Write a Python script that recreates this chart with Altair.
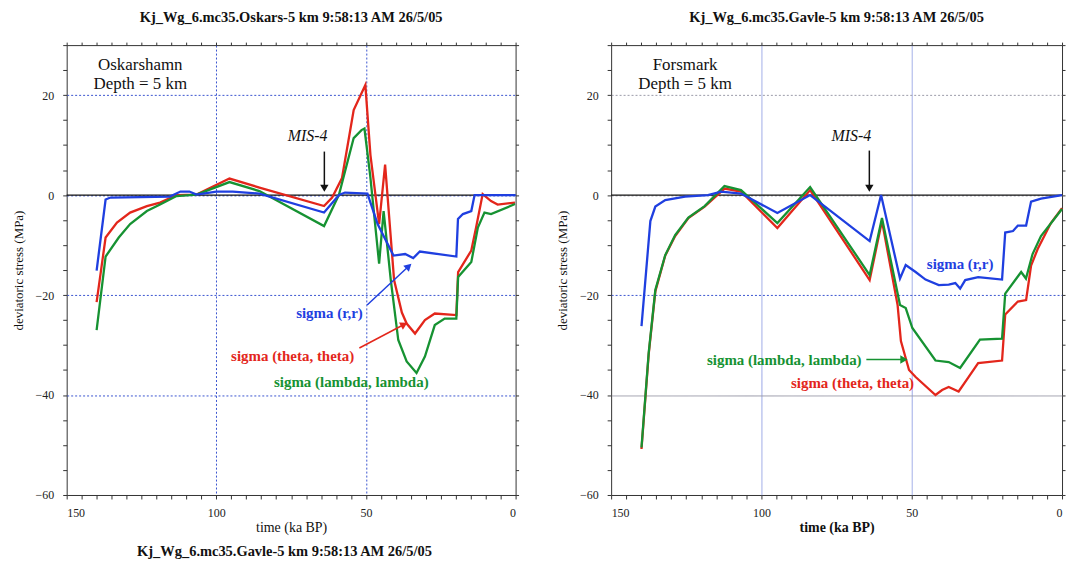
import math
import altair as alt
import pandas as pd

FONT = "Liberation Serif"
BLUE = "#1f3fe0"
RED = "#e3261b"
GREEN = "#169232"
GRID = "#3a55d0"

TITLE_L = "Kj_Wg_6.mc35.Oskars-5 km 9:58:13 AM 26/5/05"
TITLE_R = "Kj_Wg_6.mc35.Gavle-5 km 9:58:13 AM 26/5/05"
TITLE_B = "Kj_Wg_6.mc35.Gavle-5 km 9:58:13 AM 26/5/05"
X_TITLE = "time (ka BP)"
Y_TITLE = "deviatoric stress (MPa)"
SERIES = ["sigma (theta, theta)", "sigma (lambda, lambda)", "sigma (r,r)"]
COLORS = [RED, GREEN, BLUE]

# ---------------- Oskarshamn (left) ----------------
L_R_T = [140, 137, 135.4, 115.5, 112, 109, 106.6, 100, 94.5, 85.6, 64, 59, 57, 49.5, 46.1,
         40.8, 36.9, 34.2, 32.0, 19.8, 19.25, 17.6, 14.8, 13.7, 0]
L_R_V = [-15.1, -0.9, -0.5, -0.3, 0.7, 0.7, 0.1, 0.7, 0.7, 0.3, -3.5, 0, 0.5, 0.3, -5.8,
         -12.1, -11.8, -12.6, -11.3, -12.3, -4.8, -3.8, -3.2, 0, 0]

L_T_T = [140, 137, 133.2, 128.8, 123.2, 118.8, 113.3, 106.6, 95.6, 85.6, 64, 61.3, 58, 54.1,
         50.2, 48.5, 45.6, 43.6, 40.6, 38.0, 36.4, 33.6, 30.3, 27.0, 19.8, 19.2, 14.8, 13.2,
         11.0, 8.2, 6.0, 0.2]
L_T_V = [-21.4, -8.5, -5.5, -3.5, -2.2, -1.5, 0, 0.1, 3.3, 1.5, -2.2, -0.5, 3.4, 17,
         22, 8, -5.8, 6.1, -17, -23.5, -25.7, -27.7, -25, -23.7, -24, -15.4, -11.1, -6.5,
         0.2, -1.2, -1.9, -1.5]

L_L_T = [140, 137, 132.6, 128.8, 123.2, 118.8, 113.3, 106.6, 95.6, 85.6, 64, 59, 54.1, 51.5,
         50.5, 48.6, 45.6, 44.1, 41.7, 39.2, 36.4, 33.1, 30.3, 27.0, 23.7, 19.8, 19.2, 14.8,
         12.6, 10.4, 8.2, 0.2]
L_L_V = [-27, -12.3, -8.5, -5.8, -3.2, -1.9, -0.2, 0.1, 2.6, 0.8, -6.2, 0.1, 11.4, 13,
         13.3, 4, -13.7, -3.2, -17, -29, -33.3, -35.6, -32.3, -26, -24.7, -24.7, -16.4, -13.4,
         -6.5, -3.5, -3.8, -1.8]

# ---------------- Forsmark (right) ----------------
R_R_T = [139.9, 136.95, 135.3, 132.0, 125.4, 117.8, 113.4, 106.8, 94.7, 83.8, 64.0, 60.2,
         53.9, 52.0, 48.7, 45.4, 41.0, 37.7, 35.5, 33.9, 32.2, 27.9, 19.95, 18.9, 16.3, 14.7,
         11.95, 10.3, 7.0, 0]
R_R_V = [-26.2, -5.2, -2.3, -1, -0.3, 0, 0.7, 0.3, -3.6, 0, -9.2, 0,
         -16.7, -14, -15.4, -16.9, -18, -17.9, -17.6, -18.7, -17, -16.4, -16.9, -7.5, -7.2, -6.1,
         -6.1, -1.3, -0.7, 0]

R_T_T = [139.9, 137.5, 135.3, 132.0, 128.7, 124.3, 118.9, 112.3, 106.8, 94.7, 83.8, 64.0,
         59.9, 54.7, 53.6, 50.9, 48.7, 42.1, 39.9, 37.7, 34.4, 31.1, 27.9, 19.95, 18.9, 14.7,
         11.95, 10.3, 8.1, 3.7, 0]
R_T_V = [-50.8, -31.8, -19.3, -12.1, -8.2, -4.6, -2.3, 1.3, 0.7, -6.6, 1, -17,
         -5.2, -22, -29.2, -35, -36.4, -40, -39, -38.4, -39.3, -36.4, -33.6, -33.1, -23.9, -21.3,
         -21, -14.1, -10.8, -5.6, -2.6]

R_L_T = [139.9, 137.5, 135.3, 132.0, 128.7, 124.3, 118.9, 112.3, 106.8, 94.7, 83.8, 64.0,
         59.9, 53.9, 52.0, 49.8, 42.1, 37.7, 33.9, 27.3, 19.95, 18.9, 13.6, 12.0, 9.8, 7.0, 0]
R_L_V = [-50.5, -31.5, -19, -12, -8, -4.5, -2.2, 1.8, 1, -5.6, 1.6, -16,
         -4.6, -22, -22.6, -26.6, -33.1, -33.4, -34.6, -28.9, -28.7, -19.7, -15.4, -16.7, -11.8,
         -8.2, -2.8]

# ---------------- annotations ----------------
L_SITE = ["Oskarshamn", "Depth = 5 km"]
R_SITE = ["Forsmark", "Depth = 5 km"]
SITE_T = [125.4, 125.4]
SITE_V = [26.0, 22.2]

MIS_TEXT = "MIS-4"
L_MIS = (69.5, 11.9)
R_MIS = (70.1, 11.8)
L_MIS_ARROW = (63.9, 8.7, 63.9, 1.6)
R_MIS_ARROW = (64.1, 8.9, 64.1, 1.6)

L_LABEL_T = [62.2, 74.5, 54.9]      # r, theta, lambda
L_LABEL_V = [-23.6, -32.1, -37.5]
R_LABEL_T = [33.9, 69.7, 92.4]
R_LABEL_V = [-13.8, -37.7, -32.9]

# arrows (t1, v1, t2, v2, colour)
L_ARROWS = [(49.6, -22.0, 36.0, -14.4, BLUE), (52.2, -30.6, 37.6, -26.0, RED)]
R_ARROWS = [(65.1, -32.9, 53.0, -32.9, GREEN)]

X_TICKS = list(range(0, 151, 5))
Y_TICKS = list(range(-60, 31, 5))

W_L, W_R, H = 451, 453, 452


def long_df(pairs):
    rows = []
    for name, ts, vs in pairs:
        for i, (t, v) in enumerate(zip(ts, vs)):
            rows.append({"t": t, "v": v, "s": name, "o": i})
    return pd.DataFrame(rows)


def panel(lines_df, site, labels_t, labels_v, mis, mis_arrow, arrows, title, width, sx, sy, right_style):
    xs = alt.Scale(domain=[150, 0], nice=False, zero=False)
    ys = alt.Scale(domain=[-60, 30], nice=False, zero=False)

    if right_style:
        xgrid = dict(gridColor="#7f90e0", gridDash=[1, 0], gridWidth=0.8)
        ygrid = dict(gridColor={"condition": {"test": "datum.value !== -20", "value": "#9a9aa8"}, "value": GRID},
                     gridDash={"condition": {"test": "datum.value === -40", "value": [1, 0]}, "value": [2, 2]},
                     gridWidth=1)
    else:
        xgrid = dict(gridColor=GRID, gridDash=[2, 2], gridWidth=1)
        ygrid = dict(gridColor=GRID, gridDash=[2, 2], gridWidth=1)

    x_main = alt.Axis(values=X_TICKS, labelExpr="datum.value % 50 === 0 ? datum.label : ''",
                      grid=True,
                      gridOpacity={"condition": {"test": "datum.value % 50 === 0 && datum.value > 0 && datum.value < 150", "value": 1}, "value": 0},
                      tickSize=4, tickColor="#333", domain=False, title=X_TITLE,
                      labelFont=FONT, labelFontSize=12, labelPadding=9, labelColor="#222",
                      titleFont=FONT, titleFontSize=14, titleFontWeight="bold" if right_style else "normal",
                      titlePadding=2, titleColor="#111", **xgrid)
    y_main = alt.Axis(values=Y_TICKS, labelExpr="datum.value % 20 === 0 ? datum.label : ''",
                      grid=True,
                      gridOpacity={"condition": {"test": "datum.value % 20 === 0 && datum.value > -60", "value": 1}, "value": 0},
                      tickSize=4, tickColor="#333", domain=False, title=Y_TITLE,
                      labelFont=FONT, labelFontSize=12, labelPadding=9, labelColor="#222",
                      titleFont=FONT, titleFontSize=13, titleFontWeight="normal",
                      titlePadding=10, titleColor="#111", **ygrid)
    x_top = alt.Axis(orient="top", values=X_TICKS, labels=False, grid=False, tickSize=3,
                     tickColor="#333", domain=False, title=None)
    y_right = alt.Axis(orient="right", values=Y_TICKS, labels=False, grid=False, tickSize=3,
                       tickColor="#333", domain=False, title=None)

    zero = alt.Chart(pd.DataFrame({"t": [150, 0], "v": [0, 0]})).mark_line(
        color="#111", strokeWidth=1.3).encode(
        x=alt.X("t:Q", scale=xs, axis=x_top),
        y=alt.Y("v:Q", scale=ys, axis=y_right))

    lines = alt.Chart(lines_df).mark_line(strokeWidth=2.3).encode(
        x=alt.X("t:Q", scale=xs, axis=x_main),
        y=alt.Y("v:Q", scale=ys, axis=y_main),
        color=alt.Color("s:N", scale=alt.Scale(domain=SERIES, range=COLORS), legend=None),
        order="o:Q",
        detail="s:N")

    X = alt.X("t:Q", axis=None)
    Y = alt.Y("v:Q", axis=None)

    site_df = pd.DataFrame({"t": SITE_T, "v": SITE_V, "txt": site})
    site_text = alt.Chart(site_df).mark_text(font=FONT, fontSize=17, color="#111").encode(
        x=X, y=Y, text="txt:N")

    mis_df = pd.DataFrame({"t": [mis[0]], "v": [mis[1]], "txt": [MIS_TEXT]})
    mis_text = alt.Chart(mis_df).mark_text(font=FONT, fontSize=16, fontStyle="italic",
                                           color="#111").encode(x=X, y=Y, text="txt:N")

    lab_df = pd.DataFrame({"t": [labels_t[0], labels_t[1], labels_t[2]],
                           "v": [labels_v[0], labels_v[1], labels_v[2]],
                           "txt": ["sigma (r,r)", "sigma (theta, theta)", "sigma (lambda, lambda)"],
                           "c": [BLUE, RED, GREEN]})
    lab_text = alt.Chart(lab_df).mark_text(font=FONT, fontSize=15, fontWeight="bold").encode(
        x=X, y=Y, text="txt:N", color=alt.Color("c:N", scale=None))

    arr_rows = [{"t1": mis_arrow[0], "v1": mis_arrow[1], "t2": mis_arrow[2], "v2": mis_arrow[3],
                 "c": "#111"}]
    for a in arrows:
        arr_rows.append({"t1": a[0], "v1": a[1], "t2": a[2], "v2": a[3], "c": a[4]})
    arr_df = pd.DataFrame(arr_rows)
    # direction of arrowheads in screen space (x reversed, y up)
    angs = []
    for r in arr_rows:
        dx = -(r["t2"] - r["t1"]) * sx
        dy = -(r["v2"] - r["v1"]) * sy
        angs.append(math.degrees(math.atan2(dx, -dy)) % 360)
    arr_df["ang"] = angs
    shafts = alt.Chart(arr_df).mark_rule(strokeWidth=1.5).encode(
        x=alt.X("t1:Q", axis=None), y=alt.Y("v1:Q", axis=None), x2="t2:Q", y2="v2:Q",
        color=alt.Color("c:N", scale=None))
    heads = alt.Chart(arr_df).mark_point(shape="triangle", filled=True, size=70, opacity=1).encode(
        x=alt.X("t2:Q", axis=None), y=alt.Y("v2:Q", axis=None),
        angle=alt.Angle("ang:Q", scale=None),
        color=alt.Color("c:N", scale=None))

    return alt.layer(zero, lines, site_text, mis_text, lab_text, shafts, heads).resolve_axis(
        x="independent", y="independent").properties(
        width=width, height=H,
        title=alt.TitleParams(title, font=FONT, fontSize=14.5, fontWeight="bold", color="#111",
                              anchor="middle", offset=16))


left_df = long_df([(SERIES[0], L_T_T, L_T_V), (SERIES[1], L_L_T, L_L_V), (SERIES[2], L_R_T, L_R_V)])
right_df = long_df([(SERIES[0], R_T_T, R_T_V), (SERIES[1], R_L_T, R_L_V), (SERIES[2], R_R_T, R_R_V)])

left = panel(left_df, L_SITE, L_LABEL_T, L_LABEL_V, L_MIS, L_MIS_ARROW, L_ARROWS, TITLE_L,
             W_L, W_L / 150, H / 90, False)
right = panel(right_df, R_SITE, R_LABEL_T, R_LABEL_V, R_MIS, R_MIS_ARROW, R_ARROWS, TITLE_R,
              W_R, W_R / 150, H / 90, True)

chart = alt.hconcat(left, right, spacing=34).properties(
    padding={"left": 11, "top": 8, "right": 0, "bottom": 0},
    title=alt.TitleParams(TITLE_B, orient="bottom", anchor="start", dx=126, offset=10,
                          font=FONT, fontSize=14.5, fontWeight="bold", color="#111"),
).configure_view(stroke="#333", strokeWidth=1)

chart.save("out.html", embed_options={"renderer": "svg", "actions": False})
